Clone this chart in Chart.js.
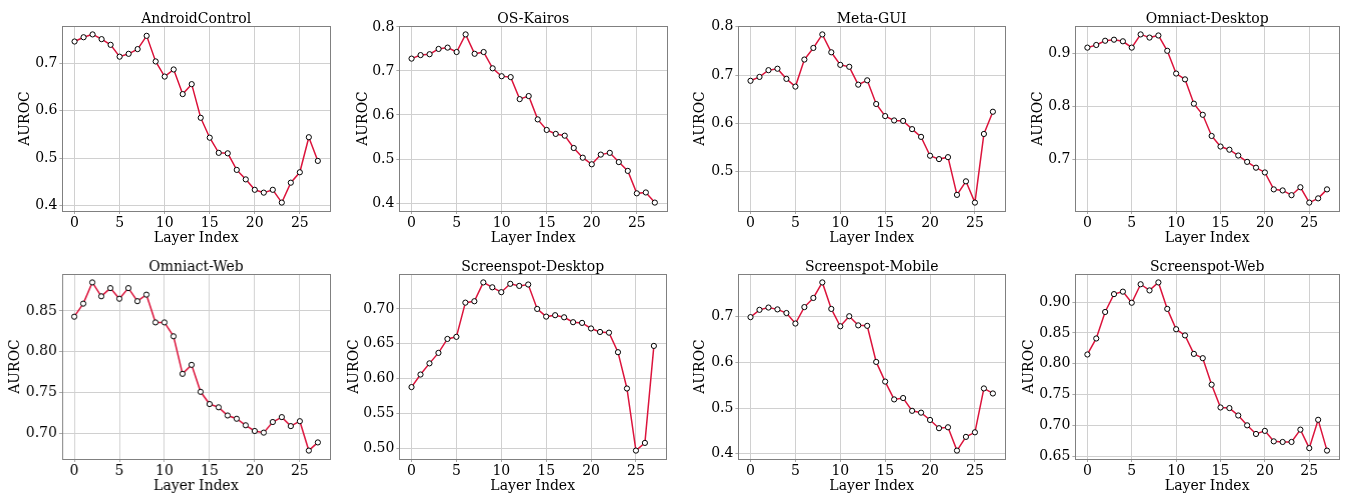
<!DOCTYPE html>
<html>
<head>
<meta charset="utf-8">
<script src="https://cdn.jsdelivr.net/npm/chart.js@4.4.1/dist/chart.umd.min.js"></script>
<style>
  html, body { margin: 0; padding: 0; background: #fff; }
  body { width: 1346px; height: 493px; position: relative; overflow: hidden; }
  canvas { position: absolute; }
</style>
</head>
<body>
<script>
// layer indices 0..27
const layers = Array.from({ length: 28 }, (_, i) => i);
const xTicks = [0, 5, 10, 15, 20, 25];

const titles = [
  "AndroidControl", "OS-Kairos", "Meta-GUI", "Omniact-Desktop",
  "Omniact-Web", "Screenspot-Desktop", "Screenspot-Mobile", "Screenspot-Web"
];

const androidControl = [0.746, 0.755, 0.761, 0.751, 0.739, 0.714, 0.720, 0.730, 0.758, 0.704,
  0.672, 0.687, 0.635, 0.656, 0.585, 0.543, 0.511, 0.510, 0.475, 0.455,
  0.433, 0.427, 0.433, 0.406, 0.448, 0.470, 0.544, 0.494];
const osKairos = [0.728, 0.736, 0.738, 0.750, 0.753, 0.743, 0.783, 0.739, 0.743, 0.706,
  0.688, 0.686, 0.636, 0.643, 0.590, 0.566, 0.557, 0.553, 0.525, 0.503,
  0.488, 0.510, 0.514, 0.493, 0.473, 0.422, 0.424, 0.401];
const metaGui = [0.688, 0.696, 0.710, 0.713, 0.692, 0.676, 0.732, 0.756, 0.784, 0.747,
  0.721, 0.717, 0.680, 0.689, 0.640, 0.615, 0.606, 0.605, 0.588, 0.572,
  0.533, 0.526, 0.530, 0.452, 0.480, 0.436, 0.578, 0.624];
const omniactDesktop = [0.911, 0.916, 0.924, 0.926, 0.923, 0.911, 0.936, 0.930, 0.934, 0.905,
  0.862, 0.851, 0.805, 0.784, 0.744, 0.724, 0.718, 0.707, 0.695, 0.684,
  0.675, 0.643, 0.641, 0.632, 0.647, 0.618, 0.626, 0.643];
const omniactWeb = [0.843, 0.859, 0.885, 0.868, 0.878, 0.865, 0.878, 0.862, 0.870, 0.836,
  0.836, 0.819, 0.773, 0.784, 0.751, 0.736, 0.732, 0.722, 0.718, 0.710,
  0.703, 0.701, 0.714, 0.720, 0.709, 0.715, 0.679, 0.689];
const screenspotDesktop = [0.588, 0.606, 0.622, 0.637, 0.657, 0.660, 0.709, 0.711, 0.738, 0.731,
  0.724, 0.736, 0.733, 0.735, 0.700, 0.689, 0.691, 0.688, 0.681, 0.680,
  0.672, 0.667, 0.666, 0.638, 0.586, 0.497, 0.508, 0.647];
const screenspotMobile = [0.699, 0.715, 0.720, 0.716, 0.708, 0.685, 0.721, 0.741, 0.775, 0.717,
  0.679, 0.701, 0.681, 0.680, 0.601, 0.558, 0.519, 0.522, 0.494, 0.490,
  0.474, 0.456, 0.458, 0.407, 0.437, 0.447, 0.543, 0.532];
const screenspotWeb = [0.815, 0.841, 0.884, 0.913, 0.917, 0.899, 0.929, 0.919, 0.932, 0.889,
  0.856, 0.846, 0.816, 0.809, 0.766, 0.729, 0.728, 0.716, 0.700, 0.686,
  0.691, 0.674, 0.673, 0.673, 0.693, 0.663, 0.709, 0.659];

const series = [androidControl, osKairos, metaGui, omniactDesktop,
  omniactWeb, screenspotDesktop, screenspotMobile, screenspotWeb];

const yTicks = [
  [0.4, 0.5, 0.6, 0.7],
  [0.4, 0.5, 0.6, 0.7, 0.8],
  [0.5, 0.6, 0.7, 0.8],
  [0.7, 0.8, 0.9],
  [0.70, 0.75, 0.80, 0.85],
  [0.50, 0.55, 0.60, 0.65, 0.70],
  [0.4, 0.5, 0.6, 0.7],
  [0.65, 0.70, 0.75, 0.80, 0.85, 0.90]
];
const yDecimals = [1, 1, 1, 1, 2, 2, 1, 2];

// plot boxes on the page: [left, top, right, bottom] and where the y label sits
const boxes = [
  [62, 26, 333, 211], [399, 26, 670, 211], [738, 26, 1008, 211], [1075, 26, 1342, 211],
  [62, 274, 333, 459], [399, 274, 669, 459], [738, 274, 1008, 459], [1075, 274, 1342, 459]
];
const yLabelX = [25, 363, 700, 1038, 15.5, 354, 700, 1029];

const FONT = "'DejaVu Serif', serif";
const FS = 14;
const TITLE_TOP = 6;
const TITLE_H = FS + TITLE_TOP;
const X_AXIS_H = 40;

const frame = {
  id: "frame",
  afterDatasetsDraw(chart) {
    const a = chart.chartArea;
    const ctx = chart.ctx;
    ctx.save();
    ctx.strokeStyle = "#808080";
    ctx.lineWidth = 1;
    ctx.strokeRect(Math.round(a.left) + 0.5, Math.round(a.top) + 0.5,
      Math.round(a.right - a.left), Math.round(a.bottom - a.top));
    ctx.restore();
  }
};

series.forEach((vals, i) => {
  const [bl, bt, br, bb] = boxes[i];
  const canvasLeft = yLabelX[i] - (4 + FS * 0.6);
  const yw = bl - canvasLeft;
  const w = yw + (br - bl) + 2;
  const h = TITLE_H + (bb - bt) + X_AXIS_H;

  const canvas = document.createElement("canvas");
  canvas.style.left = canvasLeft + "px";
  canvas.style.top = (bt - TITLE_H) + "px";
  canvas.style.width = w + "px";
  canvas.style.height = h + "px";
  canvas.width = w;
  canvas.height = h;
  document.body.appendChild(canvas);

  const lo = Math.min(...vals), hi = Math.max(...vals);
  const pad = (hi - lo) * 0.05;
  const ticks = yTicks[i];
  const dec = yDecimals[i];

  new Chart(canvas, {
    type: "line",
    data: {
      datasets: [{
        data: layers.map((x, k) => ({ x: x, y: vals[k] })),
        borderColor: "#DC143C",
        borderWidth: 1.5,
        pointRadius: 2.6,
        pointBackgroundColor: "#ffffff",
        pointBorderColor: "#000000",
        pointBorderWidth: 1,
        tension: 0
      }]
    },
    options: {
      responsive: false,
      animation: false,
      devicePixelRatio: 1,
      layout: { padding: { right: 2, left: 0, top: 0, bottom: 0 } },
      plugins: {
        legend: { display: false },
        tooltip: { enabled: false },
        title: {
          display: true,
          fullSize: false,
          text: titles[i],
          color: "#000",
          font: { family: FONT, size: FS, weight: "normal", lineHeight: 1 },
          padding: { top: TITLE_TOP, bottom: 0 }
        }
      },
      scales: {
        x: {
          type: "linear",
          min: -1.35,
          max: 28.35,
          afterBuildTicks: (s) => { s.ticks = xTicks.map(v => ({ value: v })); },
          afterFit: (s) => { s.height = X_AXIS_H; },
          ticks: {
            color: "#000",
            font: { family: FONT, size: FS },
            padding: 1,
            maxRotation: 0,
            autoSkip: false
          },
          grid: { color: "#d0d0d0", lineWidth: 1, tickLength: 3, tickColor: "#aaaaaa" },
          border: { display: false },
          title: {
            display: true,
            text: "Layer Index",
            color: "#000",
            font: { family: FONT, size: FS },
            padding: { top: 0, bottom: 4 }
          }
        },
        y: {
          min: lo - pad,
          max: hi + pad,
          afterBuildTicks: (s) => { s.ticks = ticks.map(v => ({ value: v })); },
          afterFit: (s) => { s.width = yw; },
          ticks: {
            color: "#000",
            font: { family: FONT, size: FS },
            padding: 2,
            autoSkip: false,
            callback: (v) => Number(v).toFixed(dec)
          },
          grid: { color: "#d0d0d0", lineWidth: 1, tickLength: 3, tickColor: "#aaaaaa" },
          border: { display: false },
          title: {
            display: true,
            text: "AUROC",
            color: "#000",
            font: { family: FONT, size: FS },
            padding: { top: 4, bottom: 0 }
          }
        }
      }
    },
    plugins: [frame]
  });
});
</script>
</body>
</html>
